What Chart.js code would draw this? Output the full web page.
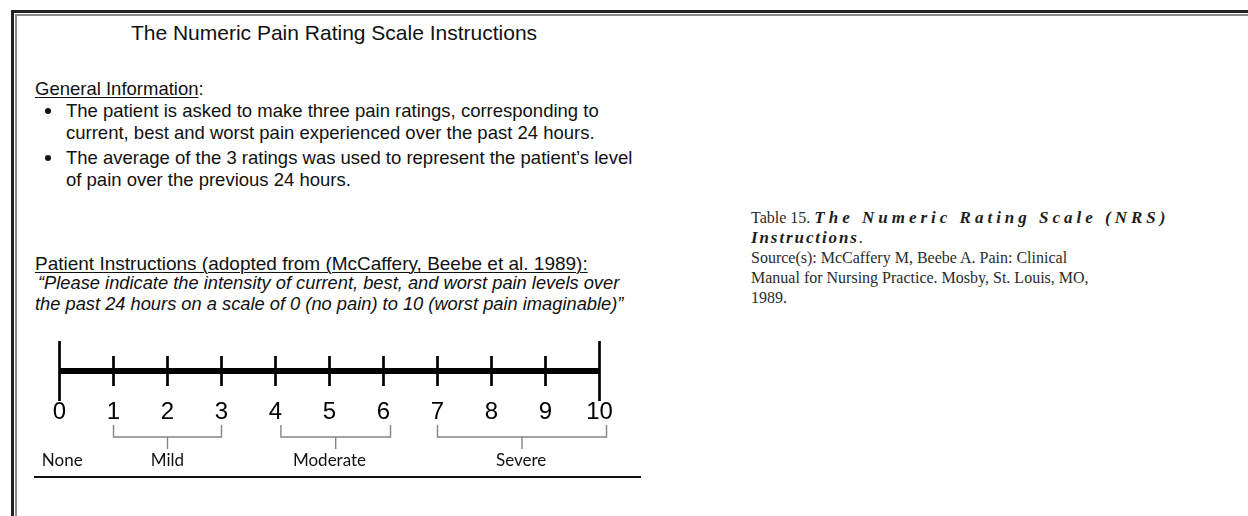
<!DOCTYPE html>
<html>
<head>
<meta charset="utf-8">
<script src="https://cdn.jsdelivr.net/npm/chart.js@4.4.1/dist/chart.umd.min.js"></script>
<style>
  html, body { margin: 0; padding: 0; background: #fff; }
  body { width: 1248px; height: 516px; position: relative; overflow: hidden; font-family: "Liberation Sans", Arial, sans-serif; color: #111; }
  .frame1 { position: absolute; left: 11px; top: 10px; width: 1300px; height: 600px; border-left: 3px solid #222; border-top: 3px solid #222; }
  .frame2 { position: absolute; left: 15px; top: 14px; width: 1300px; height: 600px; border-left: 2px solid #8a8a8a; border-top: 2px solid #8a8a8a; }
  .t { position: absolute; white-space: nowrap; font-size: 18.5px; line-height: 22px; }
  .u { text-decoration: underline; text-decoration-thickness: 1px; text-underline-offset: 2px; }
  .dot { position: absolute; width: 6px; height: 6px; border-radius: 50%; background: #111; }
  .rule { position: absolute; left: 34px; top: 476px; width: 607px; height: 2px; background: #111; }
  .cap { position: absolute; left: 751px; font-family: "Liberation Serif", "Times New Roman", serif; font-size: 16px; line-height: 20px; color: #2b2b2b; white-space: nowrap; }
  .cap i { font-weight: bold; font-size: 17px; color: #1e1e1e; }
  #wrap { position: absolute; left: 0; top: 320px; width: 680px; height: 180px; }
</style>
</head>
<body>
<div class="frame1"></div>
<div class="frame2"></div>

<div class="t" style="left:0; width:668px; text-align:center; top:21px; font-size:21px; line-height:24px;">The Numeric Pain Rating Scale Instructions</div>

<div class="t" style="left:35px; top:78px;"><span class="u">General Information</span>:</div>
<div class="dot" style="left:45px; top:108px;"></div>
<div class="t" style="left:66px; top:100px;">The patient is asked to make three pain ratings, corresponding to</div>
<div class="t" style="left:66px; top:122px;">current, best and worst pain experienced over the past 24 hours.</div>
<div class="dot" style="left:45px; top:155px;"></div>
<div class="t" style="left:66px; top:147px;">The average of the 3 ratings was used to represent the patient’s level</div>
<div class="t" style="left:66px; top:169px;">of pain over the previous 24 hours.</div>

<div class="t u" style="left:35px; top:253px; font-size:19px;">Patient Instructions (adopted from (McCaffery, Beebe et al. 1989):</div>
<div class="t" style="left:38px; top:272px; font-style:italic; font-size:18.3px;">“Please indicate the intensity of current, best, and worst pain levels over</div>
<div class="t" style="left:35px; top:293px; font-style:italic; font-size:18.3px;">the past 24 hours on a scale of 0 (no pain) to 10 (worst pain imaginable)”</div>

<div id="wrap"><canvas id="scale"></canvas></div>
<div class="rule"></div>

<div class="cap" style="top:208px;">Table 15. <i style="letter-spacing:4px;">The Numeric Rating Scale (NRS)</i></div>
<div class="cap" style="top:228px;"><i style="letter-spacing:1.9px;">Instructions</i>.</div>
<div class="cap" style="top:248px;">Source(s): McCaffery M, Beebe A. Pain: Clinical</div>
<div class="cap" style="top:268px;">Manual for Nursing Practice. Mosby, St. Louis, MO,</div>
<div class="cap" style="top:288px;">1989.</div>

<script>
// scale values
const lineEnds = [0, 10];
const majorTicks = [0, 10];
const minorTicks = [1, 2, 3, 4, 5, 6, 7, 8, 9];
// severity groups (bracket ends)
const bracketStarts = [1, 4.1, 7];
const bracketEnds = [3, 6.13, 10.13];
const categoryLabels = ['None', 'Mild', 'Moderate', 'Severe'];
const categoryCenters = [0.05, 2, 5, 8.55];

// where things go inside the canvas (canvas top is at 320px)
const lineY = 51, areaBottom = 81;

const groupsPlugin = {
  id: 'groups',
  afterDraw(chart) {
    const ctx = chart.ctx;
    const x = chart.scales.x;
    const base = chart.chartArea.bottom;
    ctx.save();
    ctx.strokeStyle = '#858585';
    ctx.lineWidth = 1.4;
    for (let i = 0; i < bracketStarts.length; i++) {
      const x1 = x.getPixelForValue(bracketStarts[i]);
      const x2 = x.getPixelForValue(bracketEnds[i]);
      const xm = (x1 + x2) / 2;
      ctx.beginPath();
      ctx.moveTo(x1, base + 24);
      ctx.lineTo(x1, base + 36);
      ctx.lineTo(x2, base + 36);
      ctx.lineTo(x2, base + 24);
      ctx.moveTo(xm, base + 36);
      ctx.lineTo(xm, base + 48);
      ctx.stroke();
    }
    ctx.fillStyle = '#111';
    ctx.font = '17px Lato, "Open Sans", sans-serif';
    ctx.textAlign = 'center';
    ctx.textBaseline = 'middle';
    categoryLabels.forEach((lab, i) => {
      ctx.fillText(lab, x.getPixelForValue(categoryCenters[i]), base + 60);
    });
    ctx.restore();
  }
};

const ctx = document.getElementById('scale').getContext('2d');
const chart = new Chart(ctx, {
  type: 'scatter',
  data: {
    datasets: [
      {
        data: lineEnds.map(v => ({x: v, y: 0})),
        showLine: true,
        borderColor: '#000',
        borderWidth: 6,
        pointRadius: 0,
        clip: false
      },
      {
        data: majorTicks.map(v => ({x: v, y: 0})),
        pointStyle: 'line',
        rotation: 90,
        radius: 30,
        borderColor: '#000',
        borderWidth: 2.7,
        clip: false
      },
      {
        data: minorTicks.map(v => ({x: v, y: 0})),
        pointStyle: 'line',
        rotation: 90,
        radius: 15,
        borderColor: '#000',
        borderWidth: 2.7,
        clip: false
      }
    ]
  },
  options: {
    responsive: true,
    maintainAspectRatio: false,
    animation: false,
    events: [],
    layout: { padding: { left: 59.5, right: 80.5, top: 0, bottom: 70 } },
    plugins: { legend: { display: false }, tooltip: { enabled: false } },
    scales: {
      x: {
        type: 'linear',
        min: 0,
        max: 10,
        grid: { display: false, drawTicks: false },
        border: { display: false },
        ticks: {
          stepSize: 1,
          padding: -3.5,
          color: '#000',
          font: { family: '"Liberation Sans", Arial, sans-serif', size: 24 }
        }
      },
      y: { display: false, min: -1, max: 1 }
    }
  },
  plugins: [groupsPlugin]
});

// put the axis labels where the picture has them
for (let i = 0; i < 4; i++) {
  const d = chart.chartArea.bottom - areaBottom;
  if (Math.abs(d) < 0.3) break;
  chart.options.layout.padding.bottom += d;
  chart.update();
}
// then pick the y range so that y = 0 lands on the number line
const ca = chart.chartArea;
const a = (lineY - ca.top) / (ca.bottom - ca.top);
chart.options.scales.y.max = a / (1 - a);
chart.update();
</script>
</body>
</html>
